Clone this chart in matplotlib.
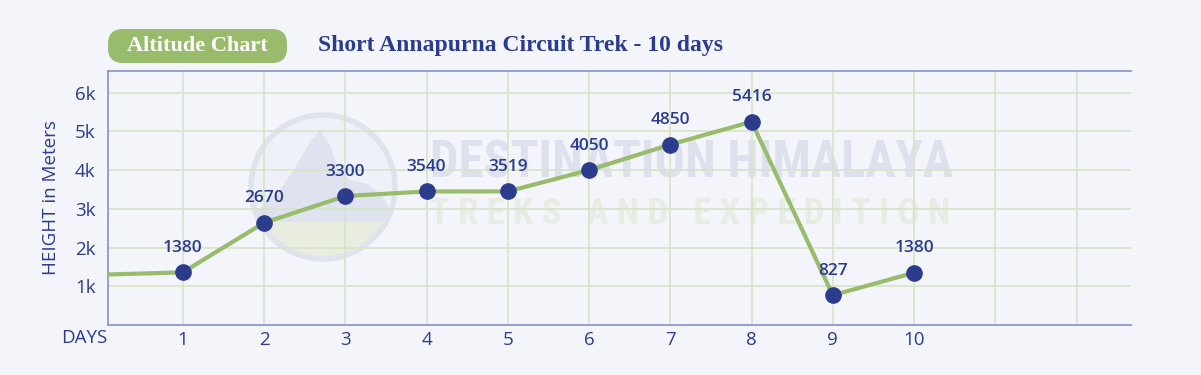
import matplotlib
matplotlib.use("Agg")
import matplotlib.pyplot as plt
from matplotlib import font_manager
from matplotlib.patches import FancyBboxPatch, Circle, Polygon, Rectangle

# ---- data ----
days = [1, 2, 3, 4, 5, 6, 7, 8, 9, 10]
heights = [1360, 2640, 3330, 3450, 3450, 4000, 4660, 5250, 770, 1350]
point_labels = ["1380", "2670", "3300", "3540", "3519", "4050", "4850", "5416", "827", "1380"]
start_height = 1300
y_ticks = [1000, 2000, 3000, 4000, 5000, 6000]
y_ticklabels = ["1k", "2k", "3k", "4k", "5k", "6k"]
x_grid = [1, 2, 3, 4, 5, 6, 7, 8, 9, 10, 11, 12]
x_ticklabels = ["1", "2", "3", "4", "5", "6", "7", "8", "9", "10", "", ""]

BG = "#f3f5fa"
NAVY = "#2c3c8c"
GREEN = "#98bb6c"
GRID = "#d7e4c6"
SPINE = "#8e99c9"

W, H = 1201, 375
fig = plt.figure(figsize=(W / 100, H / 100), dpi=100, facecolor=BG)


def pick_font(cands):
    for c in cands:
        try:
            font_manager.findfont(c, fallback_to_default=False)
            return c
        except Exception:
            pass
    return "DejaVu Sans"


narrow = pick_font(["Roboto Condensed", "Liberation Sans Narrow", "Open Sans Condensed",
                    "DejaVu Sans Condensed", "Roboto"])

# overlay axes in pixel coords
ov = fig.add_axes([0, 0, 1, 1], zorder=0)
ov.set_xlim(0, W)
ov.set_ylim(H, 0)
ov.axis("off")
ov.patch.set_visible(False)

# watermark logo
clip = Circle((323, 187), 70, transform=ov.transData)
disc = Circle((323, 187), 70, fc="#eef1f7", ec="none", zorder=1)
ov.add_patch(disc)
g = Rectangle((250, 218), 150, 50, fc="#e8eddf", ec="none", zorder=1)
ov.add_patch(g)
g.set_clip_path(clip)
mtn = Polygon([(252, 222), (262, 205), (280, 190), (295, 168), (310, 142), (320, 130),
               (330, 145), (338, 170), (350, 180), (368, 184), (384, 198), (396, 222)],
              closed=True, fc="#dfe3ef", ec="none", zorder=1)
ov.add_patch(mtn)
mtn.set_clip_path(clip)
ov.add_patch(Circle((323, 187), 72, fill=False, ec="#dfe3ee", lw=4, zorder=1))

t1 = ov.text(430, 163, "DESTINATION HIMALAYA", ha="left", va="center", fontsize=40,
             fontweight="bold", color="#dde1ee", family=narrow, zorder=1)
t2 = ov.text(430, 214, "T R E K S   A N D   E X P E D I T I O N", ha="left", va="center",
             fontsize=24, fontweight="bold", color="#e7ede2", family=narrow, zorder=1)

# pill + titles
ov.add_patch(FancyBboxPatch((108, 29), 179, 34, boxstyle="round,pad=0,rounding_size=15",
                            fc=GREEN, ec="none", zorder=2))
ov.text(197, 46, "Altitude Chart", ha="center", va="center", fontsize=16,
        fontweight="bold", color="white", family="Liberation Serif", zorder=3)
ov.text(318, 46, "Short Annapurna Circuit Trek - 10 days", ha="left", va="center",
        fontsize=17, fontweight="bold", color=NAVY, family="Liberation Serif", zorder=3)
ov.text(84, 338, "DAYS", ha="center", va="center", fontsize=13.5, color=NAVY,
        family="Open Sans", zorder=3)

# main axes
left, right, top, bottom = 108, 1131, 71, 325
ax = fig.add_axes([left / W, 1 - bottom / H, (right - left) / W, (bottom - top) / H], zorder=5)
ax.patch.set_visible(False)
ax.set_xlim(0.08, 12.67)
ax.set_ylim(0, 6560)

ax.set_xticks(x_grid)
ax.set_xticklabels(x_ticklabels)
ax.set_yticks(y_ticks)
ax.set_yticklabels(y_ticklabels)
ax.tick_params(axis="both", length=0, colors=NAVY, labelsize=13.5)
ax.tick_params(axis="x", pad=4)
ax.tick_params(axis="y", pad=9)
for lab in ax.get_xticklabels() + ax.get_yticklabels():
    lab.set_family("Open Sans")
ax.grid(True, color=GRID, lw=1.2)
ax.set_axisbelow(True)

for s in ["top", "bottom", "left"]:
    ax.spines[s].set_color(SPINE)
    ax.spines[s].set_linewidth(1.3)
ax.spines["right"].set_visible(False)

ax.set_ylabel("HEIGHT in Meters", color=NAVY, fontsize=13.5, family="Open Sans", labelpad=11)

ax.plot([0] + days, [start_height] + heights, color=GREEN, lw=3, zorder=3, clip_on=True)
ax.plot(days, heights, "o", color=NAVY, ms=11, zorder=4)
for d, h, lbl in zip(days, heights, point_labels):
    ax.annotate(lbl, (d, h), xytext=(0, 17.5), textcoords="offset points", ha="center",
                va="center", fontsize=12.5, color=NAVY, family="Open Sans",
                fontweight="semibold")

# fit watermark text widths to ~522 px
fig.canvas.draw()
r = fig.canvas.get_renderer()
for t, target in [(t1, 522), (t2, 522)]:
    w = t.get_window_extent(renderer=r).width
    t.set_fontsize(t.get_fontsize() * target / w)

fig.savefig("out.png", dpi=100, facecolor=BG)
